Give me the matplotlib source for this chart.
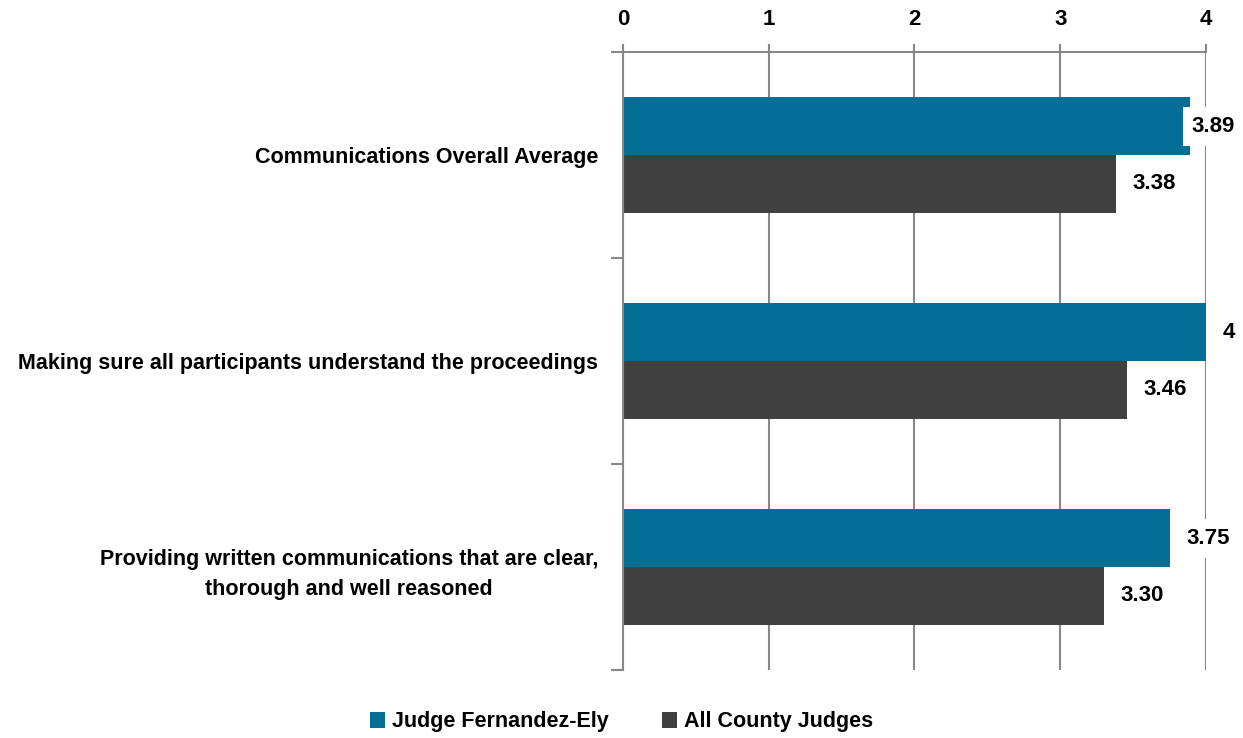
import matplotlib.pyplot as plt
import numpy as np

plt.rc('font', family=['Liberation Sans', 'DejaVu Sans'], weight='bold', size=15.5)

categories = ['Communications Overall Average',
              'Making sure all participants understand the proceedings',
              'Providing written communications that are clear,\nthorough and well reasoned']
judge = [3.89, 4, 3.75]
county = [3.38, 3.46, 3.30]
judge_labels = ['3.89', '4', '3.75']
county_labels = ['3.38', '3.46', '3.30']
series_names = ['Judge Fernandez-Ely', 'All County Judges']
colors = ['#046E96', '#404040']

W, H = 1243, 738
fig = plt.figure(figsize=(W / 100, H / 100), dpi=100)
ax = fig.add_axes([0.5012, 0.0921, 0.4690, 0.8374])

y = np.arange(len(categories))
h = 0.28
b1 = ax.barh(y - h / 2, judge, height=h, color=colors[0], label=series_names[0])
b2 = ax.barh(y + h / 2, county, height=h, color=colors[1], label=series_names[1])

ax.set_xlim(0, 4)
ax.set_ylim(2.5, -0.5)
ax.xaxis.tick_top()
ax.set_xticks([0, 1, 2, 3, 4])
ax.tick_params(axis='x', length=6, width=1.5, color='#888888', labelsize=16, pad=10)
ax.grid(axis='x', color='#888888', linewidth=1.5)
ax.set_axisbelow(True)

ax.set_yticks(y)
ax.set_yticklabels(categories, multialignment='center', linespacing=1.6)
ax.set_yticks([-0.5, 0.5, 1.5, 2.5], minor=True)
ax.tick_params(axis='y', which='major', length=0, pad=18)
ax.tick_params(axis='y', which='minor', length=9, width=1.5, color='#888888')

for s in ['right', 'bottom']:
    ax.spines[s].set_visible(False)
for s in ['left', 'top']:
    ax.spines[s].set_color('#888888')
    ax.spines[s].set_linewidth(1.5)

# value labels, pulled back left when they would run off the figure
texts = []
for bars, labs in ((b1, judge_labels), (b2, county_labels)):
    for rect, lab in zip(bars, labs):
        t = ax.annotate(lab, (rect.get_width(), rect.get_y() + rect.get_height() / 2),
                        xytext=(12, 0), textcoords='offset points', ha='left', va='center',
                        fontsize=16, fontweight='bold', annotation_clip=False,
                        bbox=dict(boxstyle='square,pad=0.4', fc='white', ec='none'))
        texts.append(t)

fig.canvas.draw()
r = fig.canvas.get_renderer()
for t in texts:
    bb = t.get_window_extent(r)
    if bb.x1 > W - 8:
        shift = (bb.x1 - (W - 8)) * 72 / fig.dpi
        t.set_position((12 - shift, 0))

fig.legend(handles=[b1, b2], loc='center', bbox_to_anchor=(0.5, 16 / H), ncol=2,
           frameon=False, handlelength=0.7, handleheight=0.7, handletextpad=0.3,
           columnspacing=2.5, fontsize=15.5)

fig.savefig('out.png', dpi=100)
